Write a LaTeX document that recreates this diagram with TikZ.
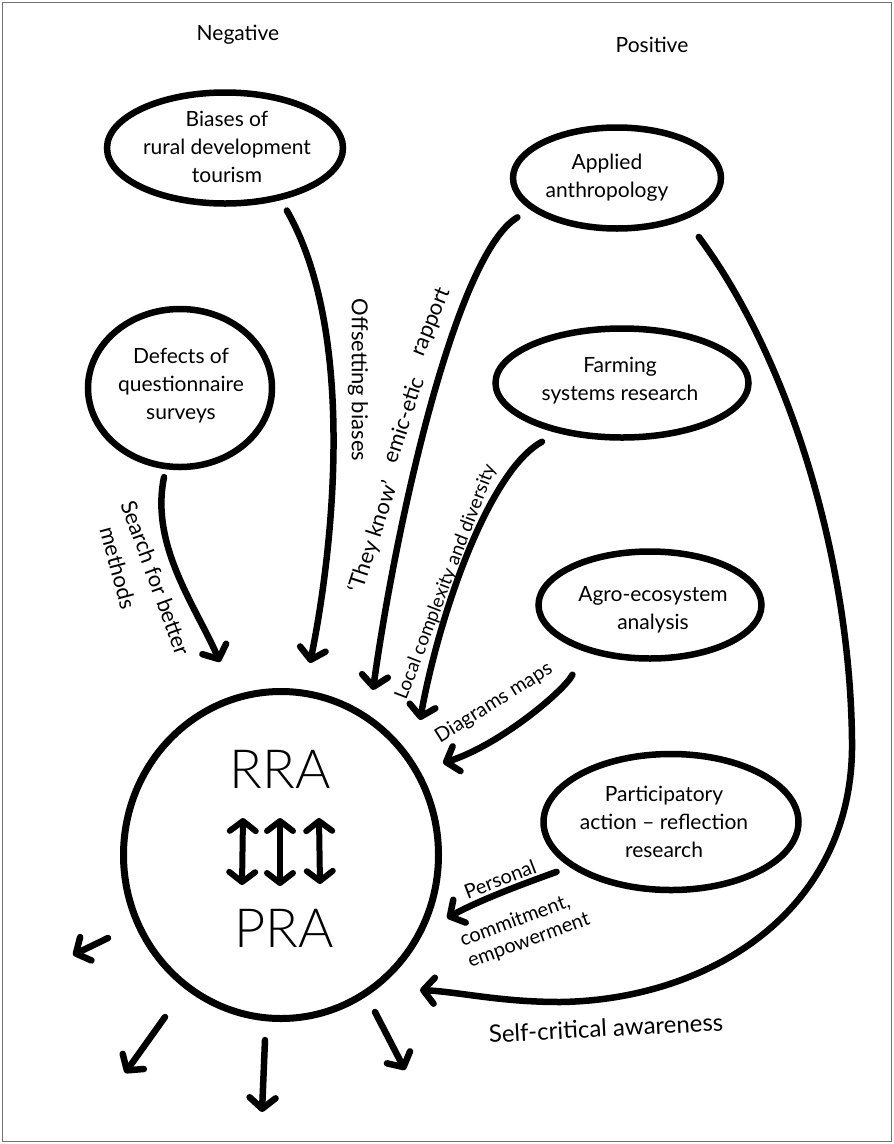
\documentclass[tikz,border=0pt]{standalone}
\usepackage{fontspec}
\setmainfont{Lato}
\newfontfamily\thinfont{Lato Light}
\usetikzlibrary{arrows.meta,shapes.geometric}

\begin{document}
\begin{tikzpicture}[x=1pt,y=-1pt,
  bubble/.style={ellipse, draw, line width=6.5pt, inner sep=0pt},
  bubbletext/.style={align=center, inner sep=0pt, font=\fontsize{21}{28}\selectfont},
  heading/.style={inner sep=0pt, font=\fontsize{21}{26}\selectfont},
  edgetext/.style={inner sep=0pt, font=\fontsize{22}{25}\selectfont},
  bigtext/.style={inner sep=0pt, font=\thinfont\fontsize{54}{60}\selectfont},
  flow/.style={line width=6.5pt, line cap=round,
    -{Straight Barb[length=11pt,width=26pt,round]}},
  twoway/.style={line width=6pt, line cap=round,
    {Straight Barb[length=10pt,width=26pt,round]}-{Straight Barb[length=10pt,width=26pt,round]}},
]
\useasboundingbox (0,0) rectangle (894,1144);
\draw[black!55, line width=1.5pt] (2.5,2.5) rectangle (891.5,1141.5);

% column headings
\node[heading] (neg) at (238,35) {Negative};
\node[heading] (pos) at (652,45) {Positive};

% source bubbles
\node[bubble, minimum width=236pt, minimum height=111pt] (biases)  at (225,148) {};
\node[bubble, minimum width=208pt, minimum height=101pt] (applied) at (617,178) {};
\node[bubble, minimum width=184pt, minimum height=158pt] (defects) at (180,388) {};
\node[bubble, minimum width=253pt, minimum height=109pt] (farming) at (622,383) {};
\node[bubble, minimum width=223pt, minimum height=107pt] (agro)    at (650,605) {};
\node[bubble, minimum width=255pt, minimum height=136pt] (pard)    at (671,822) {};

\node[bubbletext] (biases-t)  at (227,147) {Biases of\\rural development\\tourism};
\node[bubbletext] (applied-t) at (607,178) {Applied\\anthropology};
\node[bubbletext] (defects-t) at (181,386) {Defects of\\questionnaire\\surveys};
\node[bubbletext] (farming-t) at (620,381) {Farming\\systems research};
\node[bubbletext] (agro-t)    at (653,610) {Agro-ecosystem\\analysis};
\node[bubbletext] (pard-t)    at (664,822) {Participatory\\action – reflection\\research};

% central circle
\node[bubble, line width=7pt, minimum width=315pt, minimum height=327pt] (core) at (281,855) {};
\node[bigtext] (rra) at (280,769) {RRA};
\node[bigtext] (pra) at (284,928) {PRA};

\coordinate (u1) at (243,818); \coordinate (d1) at (242,885);
\coordinate (u2) at (280,818); \coordinate (d2) at (280,886);
\coordinate (u3) at (319,818); \coordinate (d3) at (320,884);
\draw[twoway] (u1) -- (d1);
\draw[twoway] (u2) -- (d2);
\draw[twoway] (u3) -- (d3);

% arrow tips near the circle
\coordinate (tip-bias)   at (310,663);
\coordinate (tip-know)   at (373,690);
\coordinate (tip-local)  at (420,720);
\coordinate (tip-diag)   at (443,763);
\coordinate (tip-pers)   at (447,918);
\coordinate (tip-self)   at (420,990);
\coordinate (tip-search) at (220,662);

% incoming influences
\draw[flow, shorten <=12pt] (biases.-43) .. controls (355,330) and (335,540) .. (tip-bias);
\draw[flow, shorten <=15pt] (applied.-160) .. controls (455,255) and (395,530) .. (tip-know);
\draw[flow, shorten <=18pt] (farming.-142) .. controls (490,470) and (440,610) .. (tip-local);
\draw[flow, shorten <=26pt] (agro.-145) .. controls (565,690) and (500,745) .. (tip-diag);
\draw[flow, shorten <=14pt] (pard.-156) .. controls (520,885) and (480,900) .. (tip-pers);
\draw[flow, shorten <=22pt] (applied.-31) .. controls (790,360) and (850,560) .. (852,740)
   .. controls (855,910) and (710,1000) .. (560,1002)
   .. controls (500,1002) and (460,992) .. (tip-self);
\draw[flow, shorten <=8pt] (defects.-100) .. controls (150,545) and (195,605) .. (tip-search);

% labels on the connectors
\node[edgetext, rotate=-90] (lab-offset)  at (358,380) {Offsetting biases};
\node[edgetext, rotate=72]  (lab-know)    at (374,537) {‘They know’};
\node[edgetext, rotate=72]  (lab-emic)    at (403,420) {emic-etic};
\node[edgetext, rotate=68]  (lab-rapport) at (432,322) {rapport};
\node[edgetext, rotate=69, font=\fontsize{19}{23}\selectfont] (lab-local) at (446,582) {Local complexity and diversity};
\node[edgetext, rotate=32, font=\fontsize{20}{23}\selectfont] (lab-diag) at (494,703) {Diagrams maps};
\node[edgetext, rotate=21, font=\fontsize{20}{23}\selectfont] (lab-pers) at (500,879) {Personal};
\node[edgetext, rotate=20, align=left, font=\fontsize{20}{23}\selectfont] (lab-commit) at (525,930) {commitment,\\empowerment};
\node[edgetext, rotate=-70] (lab-search)  at (156,578) {Search for better};
\node[edgetext, rotate=-75] (lab-methods) at (118,568) {methods};
\node[edgetext, rotate=3, font=\fontsize{24}{28}\selectfont] (lab-self) at (606,1028) {Self-critical awareness};

% outgoing arrows
\coordinate (o1s) at (108,938);  \coordinate (o1e) at (73,955);
\coordinate (o2s) at (165,1017); \coordinate (o2e) at (125,1073);
\coordinate (o3s) at (265,1040); \coordinate (o3e) at (262,1112);
\coordinate (o4s) at (375,1012); \coordinate (o4e) at (405,1070);
\draw[flow] (o1s) -- (o1e);
\draw[flow] (o2s) -- (o2e);
\draw[flow] (o3s) -- (o3e);
\draw[flow] (o4s) -- (o4e);
\end{tikzpicture}
\end{document}
